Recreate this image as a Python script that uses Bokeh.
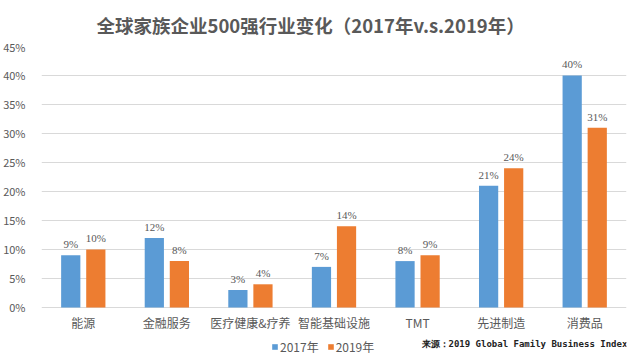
from bokeh.plotting import figure
from bokeh.models import (FactorRange, Range1d, ColumnDataSource, Label, Legend, LegendItem,
                          PrintfTickFormatter, FixedTicker, LabelSet)
from bokeh.core.properties import value
from bokeh.transform import dodge
from bokeh.embed import file_html
from bokeh.resources import INLINE

categories = ["能源", "金融服务", "医疗健康&疗养", "智能基础设施", "TMT", "先进制造", "消费品"]
values_2017 = [9, 12, 3, 7, 8, 21, 40]
values_2019 = [10, 8, 4, 14, 9, 24, 31]
series_names = ["2017年", "2019年"]
y_ticks = [0, 5, 10, 15, 20, 25, 30, 35, 40, 45]
title_text = "全球家族企业500强行业变化（2017年v.s.2019年）"
source_text = "来源：2019 Global Family Business Index"

BLUE = "#5B9BD5"
ORANGE = "#ED7D31"
GRAY = "#595959"
FONT = "Noto Sans CJK SC"

src = ColumnDataSource(dict(
    cat=categories,
    v17=values_2017,
    v19=values_2019,
    t17=[f"{v}%" for v in values_2017],
    t19=[f"{v}%" for v in values_2019],
    zero=[0] * len(categories),
))

p = figure(width=640, height=356, x_range=FactorRange(*categories), y_range=Range1d(-8.45, 45),
           output_backend="svg", toolbar_location=None, x_axis_location=None,
           min_border_left=40, min_border_right=14, min_border_top=46, min_border_bottom=0)
p.outline_line_color = None
p.background_fill_color = "white"
p.border_fill_color = "white"

p.title.text = title_text
p.title.align = "left"
p.title.offset = 55
p.title.standoff = 17
p.title.text_font = FONT
p.title.text_font_size = "18.5px"
p.title.text_font_style = "bold"
p.title.text_color = GRAY

r17 = p.vbar(x=dodge("cat", -0.15, range=p.x_range), top="v17", width=0.23, source=src,
             fill_color=BLUE, line_color=None)
r19 = p.vbar(x=dodge("cat", 0.15, range=p.x_range), top="v19", width=0.23, source=src,
             fill_color=ORANGE, line_color=None)

for col, txt, off in (("v17", "t17", -0.15), ("v19", "t19", 0.15)):
    p.add_layout(LabelSet(x=dodge("cat", off, range=p.x_range), y=col, text=txt, source=src,
                          text_align="center", text_baseline="bottom", y_offset=5,
                          text_font=FONT, text_font_size="11px", text_color=GRAY))

# category labels under the baseline
p.text(x="cat", y="zero", text="cat", source=src, y_offset=15,
       text_align="center", text_baseline="middle", text_font=value(FONT),
       text_font_size="12px", text_color=GRAY)

p.yaxis.ticker = FixedTicker(ticks=y_ticks)
p.yaxis.formatter = PrintfTickFormatter(format="%d%%")
p.yaxis.axis_line_color = None
p.yaxis.major_tick_line_color = None
p.yaxis.minor_tick_line_color = None
p.yaxis.major_label_text_font = FONT
p.yaxis.major_label_text_font_size = "11px"
p.yaxis.major_label_text_color = GRAY
p.yaxis.major_label_standoff = 10

p.xgrid.grid_line_color = None
p.ygrid.grid_line_color = "#D9D9D9"
p.ygrid.ticker = FixedTicker(ticks=y_ticks)

p.add_layout(Label(x=380, y=13, x_units="screen", y_units="screen", text=source_text,
                   text_align="left", text_baseline="middle", text_font="DejaVu Sans Mono",
                   text_font_size="9px", text_font_style="bold", text_color="#222222"))

legend = Legend(items=[LegendItem(label=series_names[0], renderers=[r17]),
                       LegendItem(label=series_names[1], renderers=[r19])],
                location=(230, 1), orientation="horizontal",
                glyph_width=7, glyph_height=7, label_standoff=2, spacing=8,
                padding=0, margin=0, border_line_color=None, background_fill_alpha=0,
                label_text_font=FONT, label_text_font_size="12px", label_text_color=GRAY,
                label_height=12)
p.add_layout(legend, "center")

open("out.html", "w").write(file_html(p, INLINE))
